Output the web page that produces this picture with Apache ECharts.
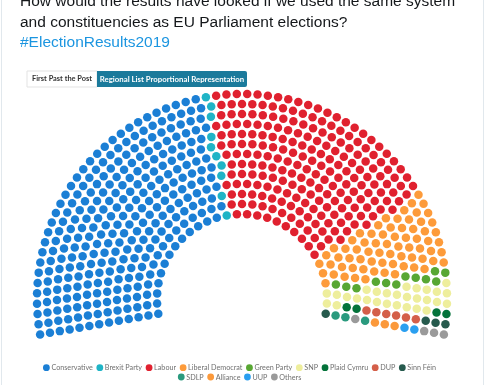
<!DOCTYPE html>
<html><head><meta charset="utf-8">
<script src="https://cdn.jsdelivr.net/npm/echarts@6/dist/echarts.min.js"></script>
<style>html,body{margin:0;padding:0;background:#fff}#c{width:488px;height:385px}</style>
</head><body><div id="c"></div>
<script>
const parties = ['Conservative','Brexit Party','Labour','Liberal Democrat','Green Party','SNP','Plaid Cymru','DUP','Sinn Féin','SDLP','Alliance','UUP','Others'];
const seats = [288,10,217,69,12,28,4,6,4,3,3,2,4];
const colors = ['#1b7fd5','#1fb4c6','#e0212f','#fd9b3a','#58a733','#eeee9c','#04733a','#d45f49','#265a4d','#2a9a7e','#fb993b','#2a9ff0','#9a9a9a'];
const legendRow1 = parties.slice(0,9);
const legendRow2 = parties.slice(9);

function layout(total, rows, rIn, rOut, startDeg, endDeg){
  const full=(endDeg-startDeg)*Math.PI/180;
  const radii=[]; for(let i=0;i<rows;i++) radii.push(rIn+i*(rOut-rIn)/(rows-1));
  let best=null;
  for(let s=5;s<20;s+=0.02){
    const rs=radii.map(r=>({r:r,len:full*r,cols:Math.ceil(full*r/s)}));
    const cnt=rs.reduce((a,b)=>a+b.cols+1,0);
    if(cnt>=total) best=rs; else break;
  }
  let over=best.reduce((a,b)=>a+b.cols+1,0)-total;
  while(over>0){
    best.map(row=>({a:row.cols/row.len,row:row})).sort((a,b)=>b.a-a.a)
      .slice(0,Math.min(over,Math.ceil(best.length/2)))
      .forEach(it=>{ if(over>0){ it.row.cols--; over--; } });
  }
  const slots=[];
  best.forEach(row=>{ const inc=(endDeg-startDeg)/row.cols; for(let c=0;c<=row.cols;c++) slots.push({r:row.r,a:startDeg+c*inc}); });
  slots.sort((p,q)=>p.a-q.a);
  return slots;
}
const total=seats.reduce((a,b)=>a+b,0);
const slots=layout(total,13,85,205,-100,100);
let k=0;
const series=parties.map((p,i)=>{
  const d=[]; for(let j=0;j<seats[i];j++){ const s=slots[k++]; d.push([s.r,s.a]); }
  return {type:'scatter',name:p,coordinateSystem:'polar',data:d,symbolSize:8.5,itemStyle:{color:colors[i],opacity:1},silent:true,animation:false};
});

// legend built as graphic text + icons
const legFont='8.2px Lato, sans-serif', legScale=0.88;
const cv=document.createElement('canvas').getContext('2d'); cv.font=legFont;
function legendRow(names, cy, cx){
  const w=names.map(n=>cv.measureText(n).width*legScale);
  const width=w.reduce((a,b)=>a+b,0)+names.length*5+(names.length-1)*7+3.5;
  let x=cx-width/2+3.5; const els=[];
  names.forEach((n,i)=>{
    const ci=parties.indexOf(n);
    els.push({type:'circle',shape:{cx:x,cy:cy,r:3.4},style:{fill:colors[ci]}});
    els.push({type:'text',x:x+5,y:cy,scaleX:legScale,style:{text:n,font:legFont,fill:'#707070',verticalAlign:'middle'}});
    x+=5+w[i]+7;
  });
  return els;
}
const chart=echarts.init(document.getElementById('c'),null,{renderer:'canvas'});
const font='15.5px "Liberation Sans", Arial, sans-serif';
chart.setOption({
  animation:false,
  color:colors,
  polar:{center:[242,299],radius:[0,205]},
  angleAxis:{type:'value',min:-180,max:180,startAngle:270,clockwise:true,show:false},
  radiusAxis:{type:'value',min:0,max:205,show:false},
  graphic:[
    {type:'line',shape:{x1:1.5,y1:0,x2:1.5,y2:385},style:{stroke:'#e1e8ed',lineWidth:1}},
    {type:'line',shape:{x1:483.5,y1:0,x2:483.5,y2:385},style:{stroke:'#e1e8ed',lineWidth:1}},
    {type:'text',x:20,y:2,style:{text:'How would the results have looked if we used the same system',font:font,fill:'#14171a',verticalAlign:'middle'}},
    {type:'text',x:20,y:22.7,style:{text:'and constituencies as EU Parliament elections?',font:font,fill:'#14171a',verticalAlign:'middle'}},
    {type:'text',x:20,y:43,style:{text:'#ElectionResults2019',font:font,fill:'#1b95e0',verticalAlign:'middle'}},
    {type:'rect',shape:{x:27,y:71,width:70,height:16},style:{fill:'#fff',stroke:'#e3e3e3',lineWidth:1}},
    {type:'rect',shape:{x:97,y:71,width:150,height:16,r:[0,2,2,0]},style:{fill:'#1b7a9b'}},
    {type:'text',x:62,y:79,style:{text:'First Past the Post',font:'bold 7.4px Lato, sans-serif',fill:'#333',align:'center',verticalAlign:'middle'}},
    {type:'text',x:172,y:79,style:{text:'Regional List Proportional Representation',font:'bold 7.8px Lato, sans-serif',fill:'#fff',align:'center',verticalAlign:'middle'}}
  ].concat(legendRow(legendRow1,367.7,239.5), legendRow(legendRow2,377,239.5)),
  series:series
});
</script></body></html>
